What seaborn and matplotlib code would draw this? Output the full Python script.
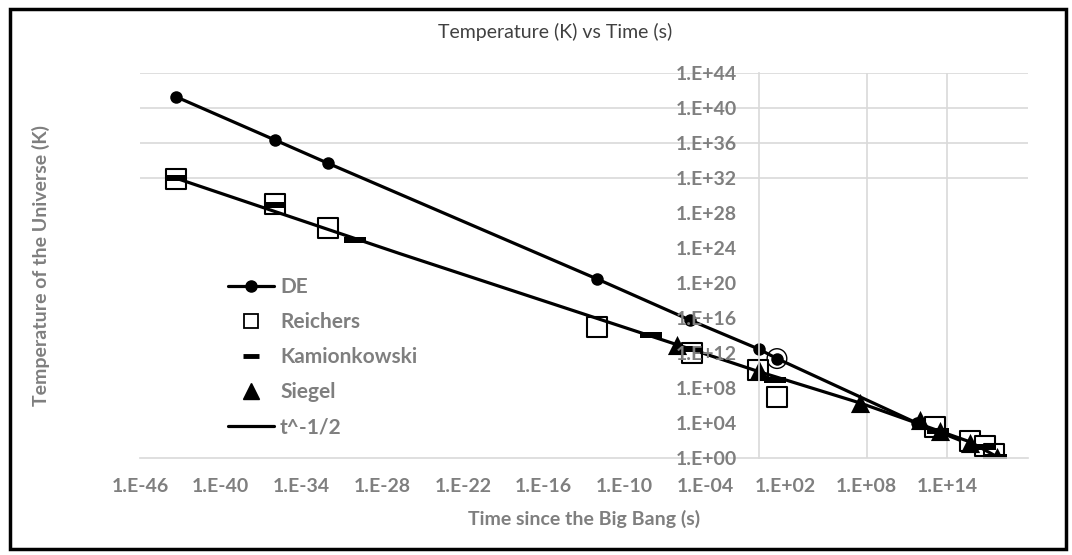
import matplotlib
matplotlib.use("Agg")
import matplotlib.pyplot as plt
from matplotlib.lines import Line2D
from matplotlib.patches import Rectangle
import seaborn as sns

# ---- data (time in s, temperature in K) ----
de_time = [5e-44, 1e-36, 1e-32, 1e-12, 8e-6, 1.0, 22, 6e11, 4e17]
de_temp = [2e41, 2.5e36, 5e33, 3e20, 6e15, 3e12, 2.5e11, 1e4, 2.7]

ring_time = [22]
ring_temp = [2.5e11]

reichers_time = [5e-44, 1e-36, 1e-32, 1e-12, 1e-5, 0.9, 22, 1.2e13, 5e15, 6e16, 3e17]
reichers_temp = [8e31, 1.1e29, 2e26, 1e15, 1.1e12, 1.3e10, 1e7, 4e3, 100, 25, 3]

kamion_time = [5e-44, 1e-36, 1e-30, 1e-8, 8e-6, 16, 2e13, 6e16, 4e17]
kamion_temp = [1e32, 1e29, 1e25, 1.3e14, 3e12, 9e8, 1.5e3, 19, 1.4]

siegel_time = [8e-7, 1.0, 3e7, 1e12, 3e13, 5e15, 5e17]
siegel_temp = [1e13, 1.3e10, 2e6, 2.5e4, 1.3e3, 63, 1.4]

thalf_time = [5e-44, 2e-27, 7e-3, 1.0, 3e7, 6e11, 5e15, 4e17]
thalf_temp = [1e32, 2.5e23, 1e11, 8e9, 2.2e6, 1e4, 75, 1.8]

x_ticks = [1e-46, 1e-40, 1e-34, 1e-28, 1e-22, 1e-16, 1e-10, 1e-4, 1e2, 1e8, 1e14]
x_labels = ["1.E-46", "1.E-40", "1.E-34", "1.E-28", "1.E-22", "1.E-16",
            "1.E-10", "1.E-04", "1.E+02", "1.E+08", "1.E+14"]
y_ticks = [1e0, 1e4, 1e8, 1e12, 1e16, 1e20, 1e24, 1e28, 1e32, 1e36, 1e40, 1e44]
y_labels = ["1.E+00", "1.E+04", "1.E+08", "1.E+12", "1.E+16", "1.E+20",
            "1.E+24", "1.E+28", "1.E+32", "1.E+36", "1.E+40", "1.E+44"]

sns.set_style("white")
plt.rcParams["font.family"] = ["Lato", "DejaVu Sans"]

GREY = "#7f7f7f"
GRID = "#d9d9d9"

fig = plt.figure(figsize=(10.72, 5.55), dpi=100)
ax = fig.add_axes([140 / 1072, (555 - 458.3) / 555, 888 / 1072, 385 / 555])
ax.set_xscale("log")
ax.set_yscale("log")
ax.set_xlim(1e-46, 1e20)
ax.set_ylim(1e0, 1e44)

# gridlines (only the ones visible in the original)
for yv in [1e32, 1e36, 1e40, 1e44]:
    ax.axhline(yv, color=GRID, lw=1.2, zorder=0.5)
for xv in [1e8, 1e14]:
    ax.axvline(xv, color=GRID, lw=1.2, zorder=0.5)

# series
sns.lineplot(x=de_time, y=de_temp, ax=ax, color="black", lw=2.3, marker="o",
             markersize=9, markeredgewidth=0, sort=False, estimator=None, zorder=2.0)
sns.scatterplot(x=ring_time, y=ring_temp, ax=ax, marker="o", s=200, facecolor="none",
                edgecolor="black", linewidth=1.0, zorder=2.05)
sns.scatterplot(x=reichers_time, y=reichers_temp, ax=ax, marker="s", s=200,
                facecolor="white", edgecolor="black", linewidth=1.5, zorder=2.1)
bar = [(-1, -0.24), (1, -0.24), (1, 0.24), (-1, 0.24), (-1, -0.24)]
sns.scatterplot(x=kamion_time, y=kamion_temp, ax=ax, marker=bar, s=250,
                color="black", linewidth=0, zorder=2.2)
sns.scatterplot(x=siegel_time, y=siegel_temp, ax=ax, marker="^", s=190,
                color="black", linewidth=0, zorder=2.3)
sns.lineplot(x=thalf_time, y=thalf_temp, ax=ax, color="black", lw=2.3,
             sort=False, estimator=None, zorder=2.4)

# axes styling
for side in ["top", "right"]:
    ax.spines[side].set_visible(False)
ax.spines["left"].set_position(("data", 1))
ax.spines["left"].set_color(GRID)
ax.spines["bottom"].set_color(GRID)
ax.spines["left"].set_linewidth(1.2)
ax.spines["bottom"].set_linewidth(1.2)
ax.set_axisbelow(False)

ax.set_xticks(x_ticks)
ax.set_xticklabels(x_labels)
ax.set_yticks(y_ticks)
ax.set_yticklabels(y_labels)
ax.minorticks_off()
ax.tick_params(axis="both", length=0, labelsize=14, labelcolor=GREY)
ax.tick_params(axis="x", pad=14)
ax.tick_params(axis="y", pad=16)
for lab in ax.get_xticklabels() + ax.get_yticklabels():
    lab.set_fontweight("bold")

ax.set_xlabel("Time since the Big Bang (s)", fontsize=14, fontweight="bold", color=GREY)
ax.xaxis.set_label_coords(0.5, -0.135)
ax.set_ylabel("Temperature of the Universe (K)", fontsize=14, fontweight="bold", color=GREY)
ax.yaxis.set_label_coords(-(140 - 50) / 888, 0.5)

fig.text(555 / 1072, 1 - 32 / 555, "Temperature (K) vs Time (s)", fontsize=14,
         color="#404040", ha="center", va="center")

handles = [
    Line2D([], [], color="black", lw=2.3, marker="o", ms=8),
    Line2D([], [], ls="none", marker="s", ms=10, mfc="white", mec="black", mew=1.3),
    Line2D([], [], ls="none", marker="_", ms=11, mec="black", mew=3.5),
    Line2D([], [], ls="none", marker="^", ms=11, mfc="black", mec="black"),
    Line2D([], [], color="black", lw=2.3),
]
labels = ["DE", "Reichers", "Kamionkowski", "Siegel", "t^-1/2"]
leg = ax.legend(handles, labels, loc="upper left", frameon=False,
                bbox_to_anchor=(228 / 1072, 1 - 277 / 555), bbox_transform=fig.transFigure,
                prop={"size": 15, "weight": "bold"}, handlelength=2.2, handletextpad=0.3,
                labelspacing=0.72, borderpad=0, borderaxespad=0)
for t in leg.get_texts():
    t.set_color(GREY)

fig.patches.append(Rectangle((10 / 1072, 6 / 555), 1056 / 1072, 540 / 555,
                             transform=fig.transFigure, fill=False, ec="black", lw=2.5))

fig.savefig("out.png", dpi=100)
